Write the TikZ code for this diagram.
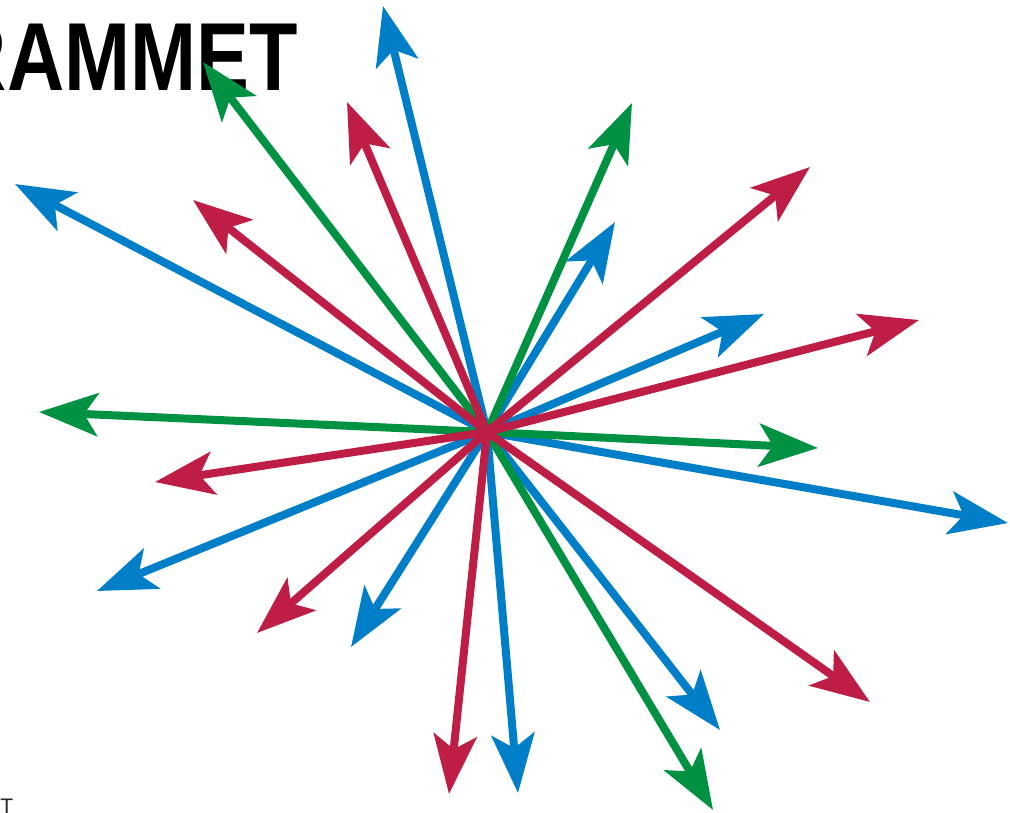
\documentclass[tikz,border=0pt]{standalone}
\usepackage{fontspec}
\setmainfont{Liberation Sans}
\newfontfamily\titlefont[FakeStretch=0.82]{Liberation Sans}
\usetikzlibrary{arrows.meta}
\definecolor{arrblue}{RGB}{0,127,200}
\definecolor{arrred}{RGB}{190,30,70}
\definecolor{arrgreen}{RGB}{0,146,66}
\tikzset{arr/.style={line width=0.16cm,line cap=round,-{Stealth[length=1.18cm,width=0.86cm,inset=0.28cm]}}  }
\tikzset{bluearr/.style={arr,draw=arrblue,fill=arrblue}  }
\tikzset{redarr/.style={arr,draw=arrred,fill=arrred}  }
\tikzset{greenarr/.style={arr,draw=arrgreen,fill=arrgreen}  }

\begin{document}
\begin{tikzpicture}[x=0.02cm,y=-0.02cm]
	\useasboundingbox (0,0) rectangle (1010,812);
	\node[anchor=base east,inner sep=0pt] (title) at (298,90) {\titlefont\bfseries\fontsize{55}{60}\selectfont RAMMET};
	\node[anchor=base west,inner sep=0pt,text=black!85] (foot) at (0,813) {\fontsize{12}{12}\selectfont T};

	\coordinate (c) at (487,432);
	% blue
	\coordinate (b1) at (383,6);
	\coordinate (b2) at (15,184);
	\coordinate (b3) at (615,222);
	\coordinate (b4) at (764,314);
	\coordinate (b5) at (1008,523);
	\coordinate (b6) at (97,591);
	\coordinate (b7) at (351,647);
	\coordinate (b8) at (518,793);
	\coordinate (b9) at (720,730);
	% green
	\coordinate (g1) at (203,62);
	\coordinate (g2) at (632,103);
	\coordinate (g3) at (39,412);
	\coordinate (g4) at (818,448);
	\coordinate (g5) at (713,810);
	% red
	\coordinate (r1) at (347,102);
	\coordinate (r2) at (193,200);
	\coordinate (r3) at (810,167);
	\coordinate (r4) at (919,320);
	\coordinate (r5) at (155,482);
	\coordinate (r6) at (257,633);
	\coordinate (r7) at (449,794);
	\coordinate (r8) at (870,702);

	\foreach \t in {b1,b2,b3,b4,b5,b6,b7,b8,b9}
		\draw[bluearr] (c) -- (\t);
	\foreach \t in {g1,g2,g3,g4,g5}
		\draw[greenarr] (c) -- (\t);
	\foreach \t in {r1,r2,r3,r4,r5,r6,r7,r8}
		\draw[redarr] (c) -- (\t);
\end{tikzpicture}
\end{document}
